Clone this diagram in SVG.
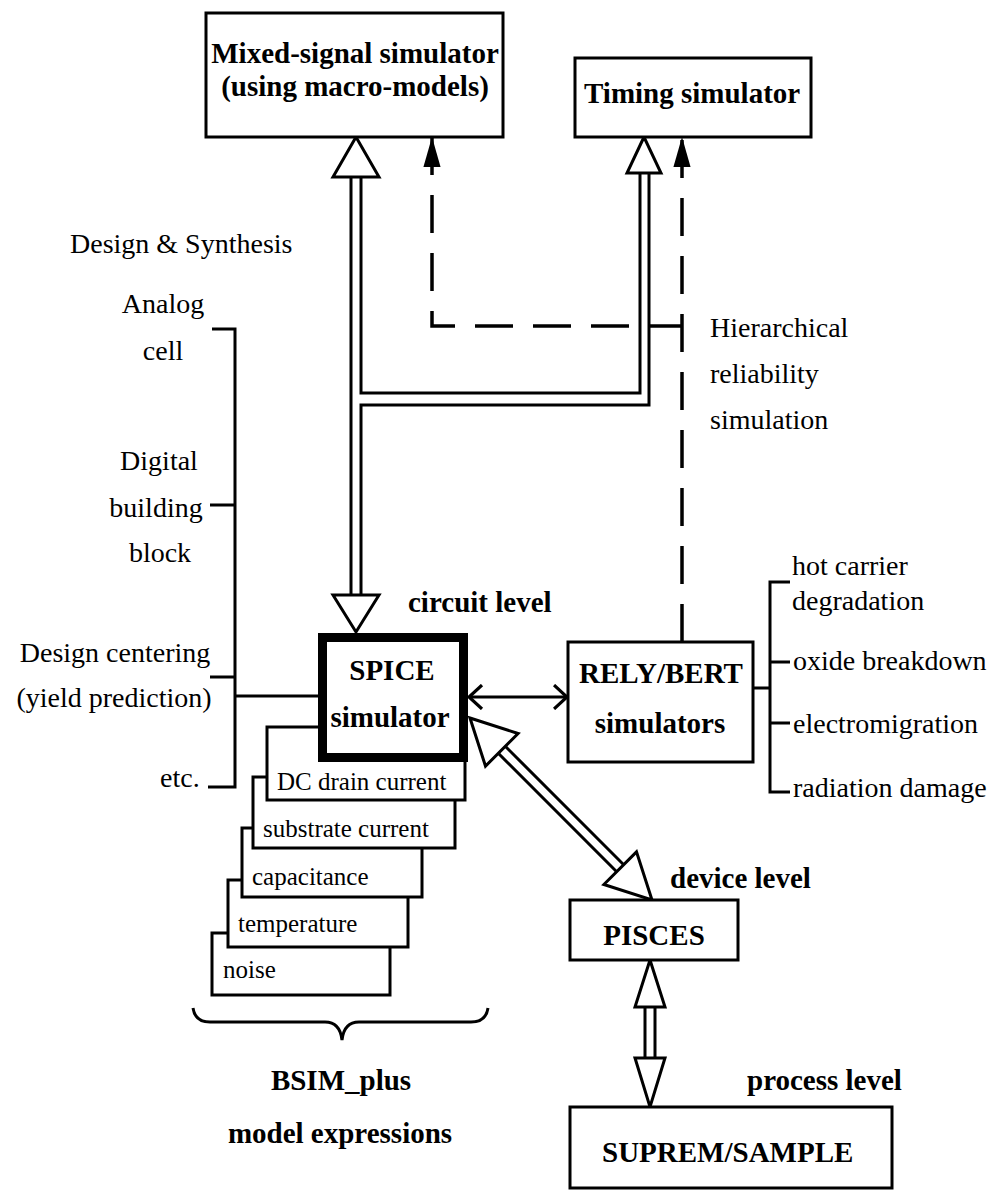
<svg xmlns="http://www.w3.org/2000/svg" width="1007" height="1195" viewBox="0 0 1007 1195">
<style>
.box{fill:#fff;stroke:#000;stroke-width:3}
.thick{fill:#fff;stroke:#000;stroke-width:9}
.ln{fill:none;stroke:#000;stroke-width:3}
.dash{fill:none;stroke:#000;stroke-width:3.5;stroke-dasharray:38 20}
.tri{fill:#fff;stroke:#000;stroke-width:3;stroke-linejoin:miter}
text{font-family:"Liberation Serif","Times New Roman",serif;fill:#000}
.b{font-weight:bold;font-size:29px}
.r{font-size:28px}
.s{font-size:25px}
.m{text-anchor:middle}
</style>
<defs>
<marker id="fa" markerUnits="userSpaceOnUse" markerWidth="30" markerHeight="18" viewBox="0 0 28 16" refX="28" refY="8" orient="auto-start-reverse"><path d="M0,0 L28,8 L0,16 Z" fill="#000"/></marker>
<marker id="oa" markerUnits="userSpaceOnUse" markerWidth="16" markerHeight="26" viewBox="0 0 14 24" refX="13" refY="12" orient="auto-start-reverse"><path d="M1,1 L13,12 L1,23" fill="none" stroke="#000" stroke-width="3"/></marker>
</defs>

<g id="connectors">
  <path class="ln" d="M351,177 L351,595"/>
  <path class="ln" d="M361,177 L361,393 L640,393 L640,173"/>
  <path class="ln" d="M361,595 L361,405 L649,405 L649,173"/>
  <polygon class="tri" points="356,137 333,177 379,177"/>
  <polygon class="tri" points="644,137 627,173 661,173"/>
  <polygon class="tri" points="333,595 379,595 356,632"/>
  <path class="dash" d="M682,642 L682,137" marker-end="url(#fa)"/>
  <path class="dash" d="M432,137 L432,326 L682,326" marker-start="url(#fa)"/>
  <path class="ln" d="M469,697 L567,697" marker-start="url(#oa)" marker-end="url(#oa)"/>
  <path class="ln" d="M505.3,746.3 L623.7,864.7 M498.3,753.3 L616.7,871.7"/>
  <polygon class="tri" points="470,718 518.1,733.5 485.5,766.1"/>
  <polygon class="tri" points="652,900 636.5,851.9 603.9,884.5"/>
  <path class="ln" d="M645,1007 L645,1058 M655,1007 L655,1058"/>
  <polygon class="tri" points="650,960 635,1007 665,1007"/>
  <polygon class="tri" points="635,1058 665,1058 650,1107"/>
  <path class="ln" d="M212,329 L235,329 L235,787 L208,787 M210,505 L235,505 M210,677 L235,677 M235,696 L318,696"/>
  <path class="ln" d="M790,582 L770,582 L770,792 L790,792 M770,662 L790,662 M770,723 L790,723 M753,688 L770,688"/>
  <path class="ln" d="M193,1008 Q195,1022 210,1022 L325,1022 Q340,1022 342,1040 Q344,1022 359,1022 L471,1022 Q486,1022 488,1008"/>
</g>

<g id="mixed">
  <rect class="box" x="206" y="13" width="297" height="124"/>
  <text class="b m" x="355" y="63">Mixed-signal simulator</text>
  <text class="b m" x="355" y="96">(using macro-models)</text>
</g>
<g id="timing">
  <rect class="box" x="575" y="58" width="236" height="79"/>
  <text class="b" x="584" y="103">Timing simulator</text>
</g>

<g id="stack">
  <g id="noise"><rect class="box" x="212" y="933" width="178" height="62"/><text class="s" x="223" y="978">noise</text></g>
  <g id="temperature"><rect class="box" x="228" y="880" width="180" height="67"/><text class="s" x="238" y="932">temperature</text></g>
  <g id="capacitance"><rect class="box" x="242" y="828" width="180" height="69"/><text class="s" x="252" y="885">capacitance</text></g>
  <g id="substrate"><rect class="box" x="253" y="777" width="202" height="71"/><text class="s" x="263" y="837">substrate current</text></g>
  <g id="dc"><rect class="box" x="267" y="727" width="198" height="73"/><text class="s" x="277" y="790">DC drain current</text></g>
</g>

<g id="spice">
  <rect class="thick" x="322.5" y="637.5" width="141" height="120"/>
  <text class="b m" x="392" y="680">SPICE</text>
  <text class="b m" x="390" y="727">simulator</text>
</g>
<g id="rely">
  <rect class="box" x="568" y="642" width="185" height="120"/>
  <text class="b m" x="661" y="683">RELY/BERT</text>
  <text class="b m" x="660" y="733">simulators</text>
</g>
<g id="pisces">
  <rect class="box" x="570" y="900" width="168" height="60"/>
  <text class="b m" x="654" y="945">PISCES</text>
</g>
<g id="suprem">
  <rect class="box" x="570" y="1107" width="322" height="81"/>
  <text class="b" x="602" y="1162">SUPREM/SAMPLE</text>
</g>

<g id="labels">
  <text class="r" x="70" y="253">Design &amp; Synthesis</text>
  <text class="r m" x="163" y="313">Analog</text>
  <text class="r m" x="163" y="360">cell</text>
  <text class="r m" x="159" y="470">Digital</text>
  <text class="r m" x="156" y="517">building</text>
  <text class="r m" x="160" y="562">block</text>
  <text class="r m" x="115" y="662">Design centering</text>
  <text class="r m" x="114" y="707">(yield prediction)</text>
  <text class="r" x="160" y="787">etc.</text>
  <text class="r" x="710" y="337">Hierarchical</text>
  <text class="r" x="710" y="383">reliability</text>
  <text class="r" x="710" y="429">simulation</text>
  <text class="b" x="408" y="612">circuit level</text>
  <text class="b" x="670" y="888">device level</text>
  <text class="b" x="747" y="1090">process level</text>
  <text class="r" x="792" y="575">hot carrier</text>
  <text class="r" x="792" y="610">degradation</text>
  <text class="r" x="793" y="670">oxide breakdown</text>
  <text class="r" x="793" y="733">electromigration</text>
  <text class="r" x="793" y="797">radiation damage</text>
  <text class="b m" x="341" y="1090">BSIM_plus</text>
  <text class="b m" x="340" y="1143">model expressions</text>
</g>
</svg>
